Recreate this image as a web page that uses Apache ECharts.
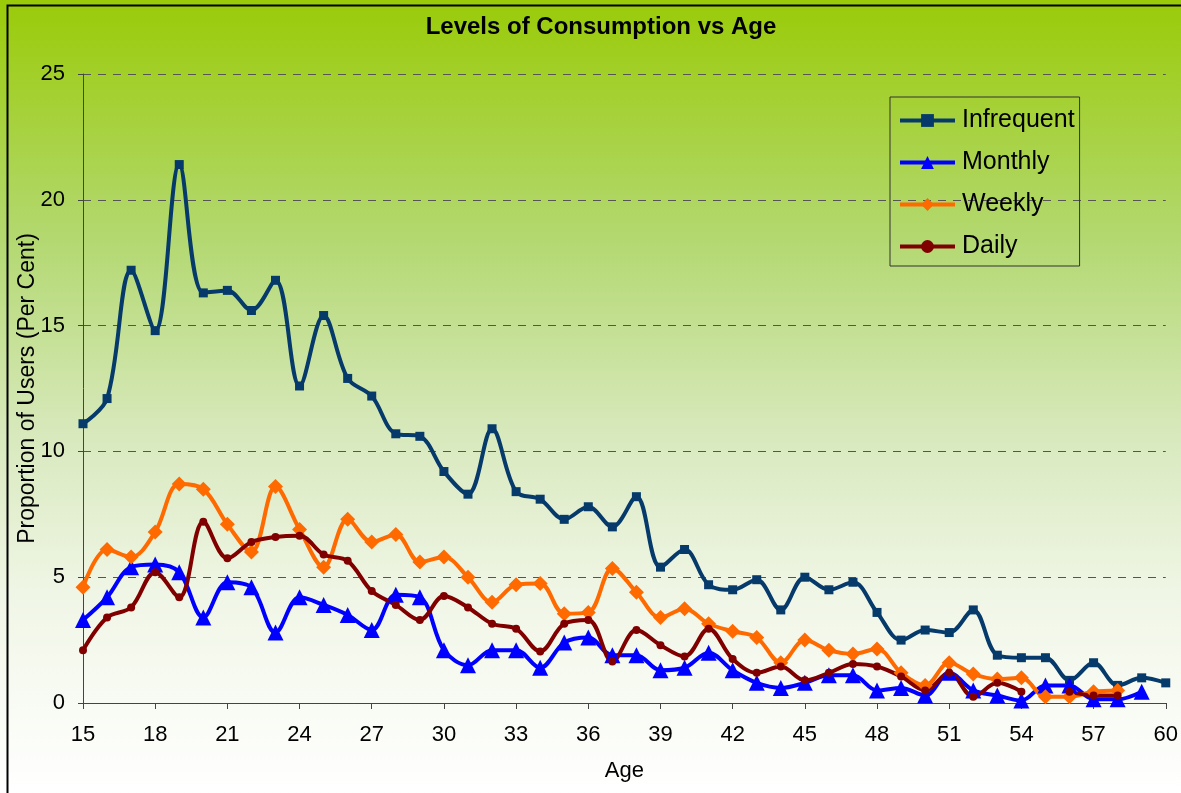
<!DOCTYPE html>
<html>
<head>
<meta charset="utf-8">
<title>Levels of Consumption vs Age</title>
<script src="https://cdn.jsdelivr.net/npm/echarts@6/dist/echarts.min.js"></script>
<style>
  body { margin: 0; background: #fff; }
  #chart { width: 1181px; height: 793px; }
</style>
</head>
<body>
<div id="chart"></div>
<script>
// ages 15..60
var ages = [];
for (var a = 15; a <= 60; a++) ages.push(String(a));

var infrequent = [11.1, 12.1, 17.2, 14.8, 21.4, 16.3, 16.4, 15.6, 16.8, 12.6,
  15.4, 12.9, 12.2, 10.7, 10.6, 9.2, 8.3, 10.9, 8.4, 8.1,
  7.3, 7.8, 7.0, 8.2, 5.4, 6.1, 4.7, 4.5, 4.9, 3.7,
  5.0, 4.5, 4.8, 3.6, 2.5, 2.9, 2.8, 3.7, 1.9, 1.8,
  1.8, 0.9, 1.6, 0.7, 1.0, 0.8];

var monthly = [3.3, 4.2, 5.4, 5.5, 5.2, 3.4, 4.8, 4.6, 2.8, 4.2,
  3.9, 3.5, 2.9, 4.3, 4.2, 2.1, 1.5, 2.1, 2.1, 1.4,
  2.4, 2.6, 1.9, 1.9, 1.3, 1.4, 2.0, 1.3, 0.8, 0.6,
  0.8, 1.1, 1.1, 0.5, 0.6, 0.3, 1.2, 0.5, 0.3, 0.1,
  0.7, 0.7, 0.15, 0.15, 0.45, null];

var weekly = [4.6, 6.1, 5.8, 6.8, 8.7, 8.5, 7.1, 6.0, 8.6, 6.9,
  5.4, 7.3, 6.4, 6.7, 5.6, 5.8, 5.0, 4.0, 4.7, 4.75,
  3.55, 3.6, 5.35, 4.4, 3.4, 3.75, 3.15, 2.85, 2.6, 1.6,
  2.5, 2.1, 1.95, 2.15, 1.2, 0.7, 1.6, 1.15, 0.95, 1.0,
  0.25, 0.25, 0.45, 0.5, null, null];

var daily = [2.1, 3.4, 3.8, 5.2, 4.2, 7.2, 5.75, 6.4, 6.6, 6.65,
  5.9, 5.65, 4.45, 3.9, 3.3, 4.25, 3.8, 3.15, 2.95, 2.05,
  3.15, 3.3, 1.65, 2.9, 2.3, 1.85, 2.95, 1.75, 1.2, 1.45,
  0.9, 1.2, 1.55, 1.45, 1.05, 0.5, 1.2, 0.25, 0.8, 0.45,
  null, 0.45, 0.3, 0.3, null, null];

var seriesNames = ["Infrequent", "Monthly", "Weekly", "Daily"];
var seriesColors = ["#053a6b", "#0000ff", "#ff6a00", "#800000"];
var seriesSymbols = ["rect", "triangle", "diamond", "circle"];
var symbolSizes = [9, 16, 15, 8];

var chart = echarts.init(document.getElementById("chart"));

var dataSets = [infrequent, monthly, weekly, daily];
var series = dataSets.map(function (d, i) {
  return {
    name: seriesNames[i],
    type: "line",
    data: d,
    smooth: 0.35,
    connectNulls: false,
    symbol: seriesSymbols[i],
    symbolSize: symbolSizes[i],
    showAllSymbol: true,
    lineStyle: { width: 4, color: seriesColors[i] },
    itemStyle: { color: seriesColors[i] },
    emphasis: { disabled: true }
  };
});

var FONT = "Liberation Sans, Arial, sans-serif";

var option = {
  animation: false,
  backgroundColor: {
    type: "linear", x: 0, y: 0, x2: 0, y2: 1,
    colorStops: [
      { offset: 0, color: "#9acb08" },
      { offset: 0.3, color: "#b3d870" },
      { offset: 0.55, color: "#d8e9bd" },
      { offset: 0.75, color: "#f0f6e6" },
      { offset: 1, color: "#ffffff" }
    ]
  },
  textStyle: { fontFamily: FONT },
  title: {
    text: "Levels of Consumption vs Age",
    left: 596,
    top: 10,
    textAlign: "center",
    textStyle: { fontSize: 24, fontWeight: "bold", color: "#000", fontFamily: FONT }
  },
  legend: {
    orient: "vertical",
    left: 890,
    top: 97,
    padding: [11, 5, 7, 8],
    itemGap: 17,
    itemWidth: 55,
    itemHeight: 16,
    borderColor: "#333",
    borderWidth: 1,
    data: seriesNames,
    lineStyle: { width: 4 },
    textStyle: { fontSize: 25, lineHeight: 25, color: "#000", padding: [0, 0, 0, 2] }
  },
  grid: { left: 83, right: 14, top: 74, bottom: 90, containLabel: false },
  xAxis: {
    type: "category",
    data: ages,
    boundaryGap: false,
    name: "Age",
    nameLocation: "middle",
    nameGap: 57,
    nameMoveOverlap: false,
    nameTextStyle: { fontSize: 22, color: "#000" },
    axisLine: { lineStyle: { color: "#444", width: 1 } },
    axisTick: { interval: 2, length: 6, lineStyle: { color: "#444" } },
    axisLabel: { interval: 2, fontSize: 22, color: "#000", margin: 21 },
    splitLine: { show: false }
  },
  yAxis: {
    type: "value",
    min: 0,
    max: 25,
    interval: 5,
    name: "Proportion of Users (Per Cent)",
    nameLocation: "middle",
    nameGap: 44,
    nameMoveOverlap: false,
    nameTextStyle: { fontSize: 23, color: "#000" },
    axisLine: { show: true, lineStyle: { color: "#444", width: 1 } },
    axisTick: { show: true, length: 5, lineStyle: { color: "#444" } },
    axisLabel: { fontSize: 22, color: "#000", margin: 18 },
    splitLine: { lineStyle: { color: "#555", type: [8, 7], width: 1 } }
  },
  graphic: [{
    type: "rect",
    silent: true,
    shape: { x: 7.5, y: 5.5, width: 1180, height: 792 },
    style: { fill: "none", stroke: "#000", lineWidth: 2 }
  }],
  series: series
};

chart.setOption(option);
</script>
</body>
</html>
